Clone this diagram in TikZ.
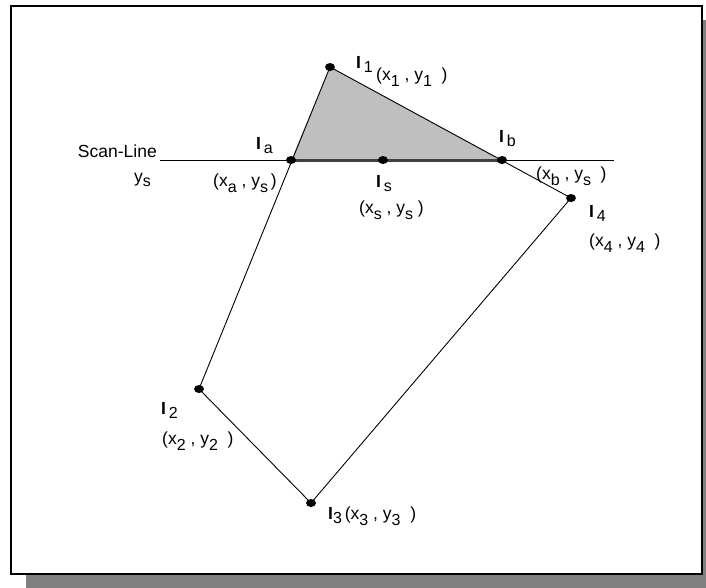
\documentclass[tikz,border=0pt]{standalone}
\usepackage{fontspec}
\setmainfont{Liberation Sans}
\usetikzlibrary{shapes.geometric}
\newcommand{\sbs}[1]{\raisebox{-6pt}{\fontsize{16}{16}\selectfont #1}}
\newcommand{\sbi}[1]{\raisebox{-4pt}{\fontsize{16}{16}\selectfont #1}}
\tikzset{
  vdot/.style={ellipse,fill=black,inner sep=0pt,minimum width=10pt,minimum height=8pt},
  lbl/.style={inner sep=0pt,anchor=base west,font=\fontsize{17.5}{17.5}\selectfont},
  edge/.style={draw=black,line width=0.9pt},
}
\begin{document}
\begin{tikzpicture}[x=1pt,y=-1pt]
\useasboundingbox (0,0) rectangle (706,587);
\clip (0,0) rectangle (706,587);
% shadow and frame
\fill[black!50] (26,20) rectangle (720,590);
\draw[line width=2.5pt,fill=white] (11,6) rectangle (702,574);
% points
\coordinate (c1) at (330,67);
\coordinate (ca) at (291,160);
\coordinate (cb) at (502,160);
\coordinate (sl1) at (160,160);
\coordinate (sl2) at (614,160);
% shaded triangle
\fill[black!25] (c1) -- (ca) -- (cb) -- cycle;
\draw[edge] (sl1) -- (sl2);
\draw[line width=3pt,black!75] (ca) -- (cb);
\node[vdot] (I1) at (c1) {};
\node[vdot] (Ia) at (ca) {};
\node[vdot] (Is) at (383,160) {};
\node[vdot] (Ib) at (cb) {};
\node[vdot] (I4) at (571,198) {};
\node[vdot] (I2) at (199,389) {};
\node[vdot] (I3) at (311,503) {};
\draw[edge] (I1.center) -- (I2.center) -- (I3.center) -- (I4.center) -- (I1.center);
% labels
\node[lbl,anchor=base east] (tscan) at (157,157) {Scan-Line};
\node[lbl] (tys) at (134,182) {y\sbi{s}};
\node[lbl] (tIa) at (256,149) {\textbf{I}\,\sbi{a}};
\node[lbl] (tca) at (213,186) {(x\sbs{a} , y\sbs{s}\,)};
\node[lbl] (tI1) at (356,68) {\textbf{I}\,\sbi{1}};
\node[lbl] (tc1) at (376,80) {(x\sbs{1} , y\sbs{1}\ \ )};
\node[lbl] (tIb) at (499,142) {\textbf{I}\,\sbi{b}};
\node[lbl] (tcb) at (536,179) {(x\sbs{b} , y\sbs{s}\ \ )};
\node[lbl] (tIs) at (376,187) {\textbf{I}\,\sbi{s}};
\node[lbl] (tcs) at (359,213) {(x\sbs{s} , y\sbs{s}\ )};
\node[lbl] (tI4) at (589,217) {\textbf{I}\,\sbi{4}};
\node[lbl] (tc4) at (589,246) {(x\sbs{4}\ , y\sbs{4}\ \ )};
\node[lbl] (tI2) at (161,414) {\textbf{I}\,\sbi{2}};
\node[lbl] (tc2) at (162,444) {(x\sbs{2} , y\sbs{2}\ \ )};
\node[lbl] (tI3) at (328,519) {\textbf{I}\sbi{3}\,(x\sbs{3} , y\sbs{3}\ \ )};
\end{tikzpicture}
\end{document}
